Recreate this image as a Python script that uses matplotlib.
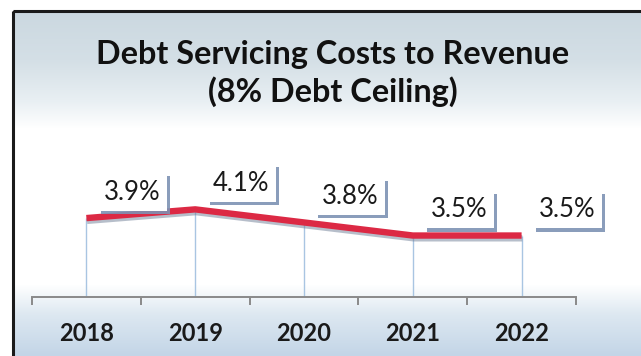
import matplotlib
matplotlib.use("Agg")
import matplotlib.pyplot as plt
import matplotlib.patheffects as pe
from matplotlib.patches import Rectangle
from matplotlib.colors import to_rgb
import numpy as np

years = ['2018', '2019', '2020', '2021', '2022']
ratio = [3.9, 4.1, 3.8, 3.5, 3.5]
labels = ['3.9%', '4.1%', '3.8%', '3.5%', '3.5%']
title1 = 'Debt Servicing Costs to Revenue'
title2 = '(8% Debt Ceiling)'

W, H = 641, 356
fig = plt.figure(figsize=(W / 100, H / 100), dpi=100)
plt.rcParams['font.family'] = ['Lato', 'DejaVu Sans']

# background: bluish bands top and bottom, white in the middle
bg = fig.add_axes([0, 0, 1, 1])
bg.set_xlim(0, W)
bg.set_ylim(H, 0)
bg.axis('off')
stops_y = [11, 60, 100, 128, 285, 315, 356]
stops_c = ['#cbd8e0', '#d4dfe6', '#e8eff3', '#ffffff', '#ffffff', '#dde8f1', '#c3d5e7']
rows = np.arange(11, H + 1)
rgb = np.array([to_rgb(c) for c in stops_c])
grad = np.stack([np.interp(rows, stops_y, rgb[:, k]) for k in range(3)], axis=-1)
grad = np.repeat(grad[:, None, :], 2, axis=1)
bg.imshow(grad, extent=[13, W, H, 11], aspect='auto', zorder=0)
bg.add_patch(Rectangle((13, 11), W + 20, H + 20, fill=False, ec='#1a1a1a', lw=2.2, zorder=1))

fig.text(333 / W, 1 - 64 / H, title1, ha='center', va='baseline',
         fontsize=23.3, fontweight='bold', color='#111111')
fig.text(333 / W, 1 - 102 / H, title2, ha='center', va='baseline',
         fontsize=23.3, fontweight='bold', color='#111111')

# main plot area
left, right, bottom, top = 32, 576, 297, 140
ax = fig.add_axes([left / W, 1 - bottom / H, (right - left) / W, (bottom - top) / H])
ax.set_facecolor('none')
y0 = 2.09
ax.set_ylim(y0, y0 + (bottom - top) / 43.6)
ax.set_xlim(-0.5, len(years) - 0.5)
x = np.arange(len(years))

ax.vlines(x, y0, ratio, color='#a9c5e2', lw=1.0, zorder=2)
ax.plot(x, ratio, color='#dc2944', lw=4.6, solid_capstyle='butt', zorder=3,
        path_effects=[pe.SimpleLineShadow(offset=(0.5, -2), shadow_color='#6f7f96', alpha=0.5),
                      pe.Normal()])

for xi, yi, lab in zip(x, ratio, labels):
    t = ax.annotate(lab, (xi, yi), xytext=(46, 26), textcoords='offset pixels',
                    ha='center', va='center', fontsize=18.5, color='#1a1a1a', zorder=5,
                    bbox=dict(boxstyle='square,pad=0.25', fc='white', ec='none'))
    t.get_bbox_patch().set_path_effects([
        pe.withSimplePatchShadow(offset=(2.2, -2.2), shadow_rgbFace='#7d92b4', alpha=0.9)])

for s in ['top', 'left', 'right']:
    ax.spines[s].set_visible(False)
ax.spines['bottom'].set_color('#8a8a8a')
ax.spines['bottom'].set_linewidth(1.4)
ax.set_yticks([])
ax.set_xticks(np.arange(len(years) + 1) - 0.5)
ax.set_xticklabels([])
ax.tick_params(axis='x', which='major', direction='out', length=6, width=1.4, color='#8a8a8a')
ax.set_xticks(x, minor=True)
ax.set_xticklabels(years, minor=True, fontsize=17, fontweight='bold', color='#1a1a1a')
ax.tick_params(axis='x', which='minor', length=0, pad=18)

fig.savefig('out.png', dpi=100)
